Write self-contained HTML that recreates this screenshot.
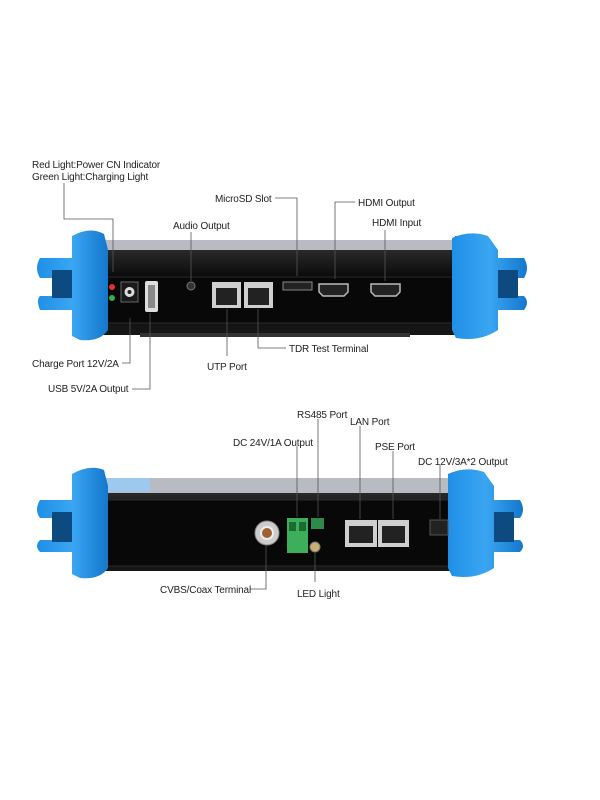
<!DOCTYPE html>
<html><head><style>
html,body{margin:0;padding:0;background:#fff;width:600px;height:800px;overflow:hidden}
svg text{font-family:"Liberation Sans",sans-serif;font-size:10px;letter-spacing:-0.15px;fill:#222}
</style></head><body>
<svg width="600" height="800" viewBox="0 0 600 800" xmlns="http://www.w3.org/2000/svg">
<defs>
<linearGradient id="bl" x1="0" x2="1"><stop offset="0" stop-color="#1f8fe6"/><stop offset="0.5" stop-color="#3aa6f2"/><stop offset="1" stop-color="#1477cc"/></linearGradient>
<linearGradient id="bd" x1="0" y1="0" x2="0" y2="1"><stop offset="0" stop-color="#2a2a2a"/><stop offset="0.3" stop-color="#0c0c0c"/><stop offset="1" stop-color="#161616"/></linearGradient>
</defs>

<!-- TOP DEVICE -->
<rect x="95" y="240" width="380" height="12" fill="#b8bcc2"/>
<rect x="93" y="250" width="384" height="85" rx="4" fill="url(#bd)"/>
<rect x="107" y="277" width="353" height="46" fill="#080808" stroke="#2a2a2a"/>
<rect x="140" y="333" width="270" height="4" fill="#333"/>
<path d="M72 236 Q90 226 104 234 L108 250 L108 330 Q100 342 80 340 L72 336 L72 310 L40 310 Q36 300 40 296 L72 296 L72 278 L40 278 Q34 268 40 258 L72 258 Z" fill="url(#bl)"/>
<rect x="52" y="270" width="20" height="28" fill="#0d4a80"/>
<rect x="455" y="236" width="30" height="20" fill="#2a6fc0"/>
<rect x="462" y="240" width="16" height="8" fill="#e04848"/>
<path d="M452 238 Q470 230 488 236 L498 250 L498 258 L524 258 Q530 268 524 278 L498 278 L498 296 L524 296 Q530 302 524 310 L498 310 L498 330 Q480 342 456 338 L452 330 Z" fill="url(#bl)"/>
<rect x="498" y="270" width="20" height="28" fill="#0d4a80"/>
<circle cx="112" cy="287" r="3" fill="#e53030"/>
<circle cx="112" cy="298" r="3" fill="#2ab34a"/>
<rect x="121" y="282" width="17" height="20" fill="#1a1a1a" stroke="#666"/>
<circle cx="129.5" cy="292" r="5" fill="#ddd"/><circle cx="129.5" cy="292" r="2" fill="#222"/>
<rect x="145" y="281" width="13" height="31" rx="2" fill="#ddd"/><rect x="148" y="285" width="7" height="23" fill="#888"/>
<circle cx="191" cy="286" r="4" fill="#333" stroke="#777"/>
<rect x="212" y="282" width="29" height="26" fill="#cfcfcf"/><rect x="216" y="288" width="21" height="17" fill="#222"/>
<rect x="244" y="282" width="29" height="26" fill="#cfcfcf"/><rect x="248" y="288" width="21" height="17" fill="#222"/>
<rect x="283" y="282" width="29" height="8" fill="#222" stroke="#888"/>
<path d="M319 284 H348 V292 L344 296 H323 L319 292 Z" fill="#222" stroke="#bbb" stroke-width="1.5"/>
<path d="M371 284 H400 V292 L396 296 H375 L371 292 Z" fill="#222" stroke="#bbb" stroke-width="1.5"/>
<g stroke="#555" stroke-width="0.8" fill="none">
<path d="M64 183 V219 H113 V272"/>
<path d="M275 198 H297 V276"/>
<path d="M355 202 H335 V279"/>
<path d="M385 230 V281"/>
<path d="M191 232 V281"/>
<path d="M122 363 H130 V318"/>
<path d="M132 389 H150 V313"/>
<path d="M227 356 V309"/>
<path d="M286 348 H258 V309"/>
</g>
<text x="32" y="168">Red Light:Power CN Indicator</text>
<text x="32" y="180">Green Light:Charging Light</text>
<text x="215" y="202">MicroSD Slot</text>
<text x="358" y="206">HDMI Output</text>
<text x="372" y="226">HDMI Input</text>
<text x="173" y="229">Audio Output</text>
<text x="32" y="367">Charge Port 12V/2A</text>
<text x="48" y="392">USB 5V/2A Output</text>
<text x="207" y="370">UTP Port</text>
<text x="289" y="352">TDR Test Terminal</text>

<!-- BOTTOM DEVICE -->
<rect x="95" y="478" width="366" height="16" fill="#b8bcc2"/>
<rect x="100" y="478" width="50" height="14" fill="#9ec8ee"/>
<rect x="93" y="493" width="370" height="78" rx="4" fill="url(#bd)"/>
<rect x="107" y="500" width="346" height="66" fill="#080808" stroke="#2a2a2a"/>
<path d="M72 474 Q90 464 104 470 L108 486 L108 568 Q100 580 80 578 L72 574 L72 552 L40 552 Q34 546 40 540 L72 540 L72 518 L40 518 Q34 510 40 500 L72 500 Z" fill="url(#bl)"/>
<rect x="52" y="512" width="20" height="30" fill="#0d4a80"/>
<path d="M448 474 Q466 466 484 472 L494 486 L494 500 L520 500 Q526 510 520 518 L494 518 L494 540 L520 540 Q526 546 520 552 L494 552 L494 568 Q476 580 452 576 L448 568 Z" fill="url(#bl)"/>
<rect x="494" y="512" width="20" height="30" fill="#0d4a80"/>
<circle cx="267" cy="533" r="12" fill="#ccc" stroke="#888"/><circle cx="267" cy="533" r="6" fill="#a06030" stroke="#eee" stroke-width="2"/>
<rect x="287" y="518" width="21" height="35" fill="#3dae5a"/><rect x="289" y="522" width="7" height="9" fill="#1d6a32"/><rect x="299" y="522" width="7" height="9" fill="#1d6a32"/>
<rect x="311" y="518" width="13" height="11" fill="#2d8a48"/>
<circle cx="315" cy="547" r="5" fill="#c8b070" stroke="#777"/>
<rect x="345" y="520" width="32" height="27" fill="#cfcfcf"/><rect x="349" y="526" width="24" height="17" fill="#222"/>
<rect x="378" y="520" width="31" height="27" fill="#cfcfcf"/><rect x="382" y="526" width="23" height="17" fill="#222"/>
<rect x="430" y="520" width="18" height="15" fill="#222" stroke="#555"/>
<g stroke="#555" stroke-width="0.8" fill="none">
<path d="M297 446 V517"/>
<path d="M318 419 V517"/>
<path d="M360 426 V519"/>
<path d="M393 451 V519"/>
<path d="M440 465 V519"/>
<path d="M250 589 H266 V546"/>
<path d="M315 582 V553"/>
</g>
<text x="297" y="418">RS485 Port</text>
<text x="350" y="425">LAN Port</text>
<text x="233" y="446">DC 24V/1A Output</text>
<text x="375" y="450">PSE Port</text>
<text x="418" y="465">DC 12V/3A*2 Output</text>
<text x="160" y="593">CVBS/Coax Terminal</text>
<text x="297" y="597">LED Light</text>
</svg>
</body></html>
